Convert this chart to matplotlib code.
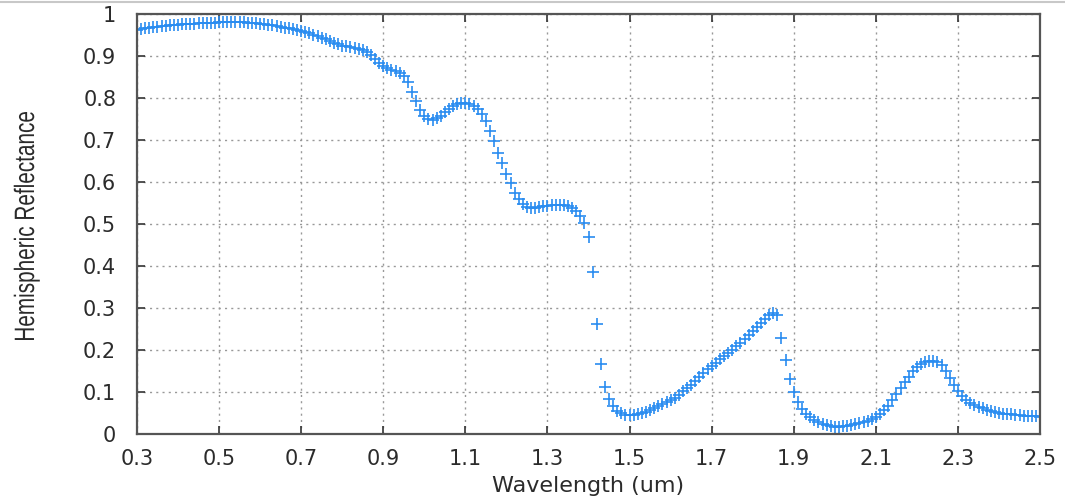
import matplotlib
matplotlib.use('Agg')
import matplotlib.pyplot as plt
from matplotlib.textpath import TextPath
from matplotlib.patches import PathPatch
from matplotlib.font_manager import FontProperties
from matplotlib.transforms import Affine2D, IdentityTransform
import numpy as np

# wavelength sampled every 0.01 um from 0.3 to 2.5
wavelength = np.round(np.arange(0.30, 2.5001, 0.01), 2)

reflectance = [
    # 0.30 - 0.39
    0.962, 0.964, 0.966, 0.967, 0.969, 0.970, 0.971, 0.972, 0.973, 0.974,
    # 0.40 - 0.49
    0.975, 0.976, 0.976, 0.977, 0.977, 0.978, 0.978, 0.978, 0.979, 0.979,
    # 0.50 - 0.59
    0.980, 0.980, 0.980, 0.980, 0.980, 0.980, 0.980, 0.979, 0.979, 0.978,
    # 0.60 - 0.69
    0.977, 0.976, 0.975, 0.974, 0.972, 0.970, 0.968, 0.966, 0.964, 0.962,
    # 0.70 - 0.79
    0.960, 0.957, 0.954, 0.951, 0.948, 0.944, 0.940, 0.936, 0.932, 0.928,
    # 0.80 - 0.89
    0.925, 0.923, 0.922, 0.920, 0.918, 0.915, 0.910, 0.902, 0.893, 0.884,
    # 0.90 - 0.99
    0.876, 0.872, 0.868, 0.864, 0.860, 0.852, 0.838, 0.815, 0.792, 0.772,
    # 1.00 - 1.09
    0.757, 0.750, 0.749, 0.752, 0.758, 0.766, 0.774, 0.781, 0.786, 0.788,
    # 1.10 - 1.19
    0.788, 0.786, 0.782, 0.775, 0.762, 0.745, 0.722, 0.697, 0.670, 0.645,
    # 1.20 - 1.29
    0.620, 0.597, 0.575, 0.560, 0.548, 0.541, 0.538, 0.538, 0.540, 0.542,
    # 1.30 - 1.39
    0.544, 0.545, 0.546, 0.546, 0.545, 0.543, 0.539, 0.532, 0.520, 0.503,
    # 1.40 - 1.49
    0.470, 0.385, 0.263, 0.168, 0.112, 0.083, 0.066, 0.056, 0.050, 0.046,
    # 1.50 - 1.59
    0.045, 0.045, 0.047, 0.050, 0.053, 0.057, 0.061, 0.066, 0.071, 0.076,
    # 1.60 - 1.69
    0.081, 0.087, 0.094, 0.102, 0.110, 0.118, 0.127, 0.136, 0.145, 0.154,
    # 1.70 - 1.79
    0.162, 0.170, 0.178, 0.185, 0.193, 0.201, 0.209, 0.218, 0.227, 0.236,
    # 1.80 - 1.89
    0.245, 0.255, 0.265, 0.275, 0.284, 0.289, 0.283, 0.228, 0.176, 0.132,
    # 1.90 - 1.99
    0.100, 0.077, 0.060, 0.048, 0.040, 0.034, 0.029, 0.025, 0.022, 0.020,
    # 2.00 - 2.09
    0.018, 0.018, 0.019, 0.020, 0.021, 0.023, 0.026, 0.029, 0.032, 0.036,
    # 2.10 - 2.19
    0.041, 0.048, 0.057, 0.068, 0.081, 0.095, 0.109, 0.123, 0.137, 0.150,
    # 2.20 - 2.29
    0.160, 0.167, 0.172, 0.175, 0.175, 0.172, 0.164, 0.150, 0.133, 0.117,
    # 2.30 - 2.39
    0.102, 0.090, 0.081, 0.074, 0.069, 0.065, 0.061, 0.058, 0.055, 0.053,
    # 2.40 - 2.50
    0.051, 0.049, 0.048, 0.047, 0.046, 0.045, 0.044, 0.043, 0.042, 0.042,
    0.041,
]

x_ticks = [0.3, 0.5, 0.7, 0.9, 1.1, 1.3, 1.5, 1.7, 1.9, 2.1, 2.3, 2.5]
y_ticks = [0, 0.1, 0.2, 0.3, 0.4, 0.5, 0.6, 0.7, 0.8, 0.9, 1]
y_labels = ['0', '0.1', '0.2', '0.3', '0.4', '0.5',
            '0.6', '0.7', '0.8', '0.9', '1']
ylabel_text = 'Hemispheric Reflectance'

fig = plt.figure(figsize=(10.65, 5.03), dpi=100)
ax = fig.add_axes([0.1286, 0.137, 0.848, 0.835])

ax.plot(wavelength, reflectance, linestyle='none', marker='+',
        color='#2a8cf0', markersize=8, markeredgewidth=1.2)

ax.set_xlim(0.3, 2.5)
ax.set_ylim(0, 1)
ax.set_xticks(x_ticks)
ax.set_xticklabels(['%.1f' % t for t in x_ticks])
ax.set_yticks(y_ticks)
ax.set_yticklabels(y_labels)

ax.grid(True, color='#999999', linestyle=(0, (1.5, 3)), linewidth=1.0)
ax.tick_params(direction='in', length=6, width=1.2, color='#333333',
               top=True, right=True, labelsize=15, labelcolor='#2b2b2b')
ax.tick_params(axis='x', pad=11)
ax.tick_params(axis='y', pad=15)
for lab in ax.get_xticklabels() + ax.get_yticklabels():
    lab.set_family('DejaVu Sans')
for s in ax.spines.values():
    s.set_color('#555555')
    s.set_linewidth(1.6)

ax.set_xlabel('Wavelength (um)', fontsize=16, family='DejaVu Sans',
              color='#2b2b2b', labelpad=5)

# the y label in the screenshot is squeezed along its length,
# so draw it as a path and scale it by hand
tp = TextPath((0, 0), ylabel_text, size=28,
              prop=FontProperties(family='Liberation Sans'))
ext = tp.get_extents()
squeeze = 228.0 / ext.width
tr = (Affine2D().translate(-ext.x0 - ext.width / 2, 0)
      .scale(squeeze, 1).rotate_deg(90).translate(34, 277))
fig.add_artist(PathPatch(tr.transform_path(tp), facecolor='#2b2b2b',
                         edgecolor='none', transform=IdentityTransform()))

# thin grey border line at the top of the screenshot
fig.add_artist(plt.Line2D([0, 1], [0.997, 0.997], color='#c8c8c8',
                          linewidth=1.5, transform=fig.transFigure))

fig.savefig('out.png', dpi=100)
